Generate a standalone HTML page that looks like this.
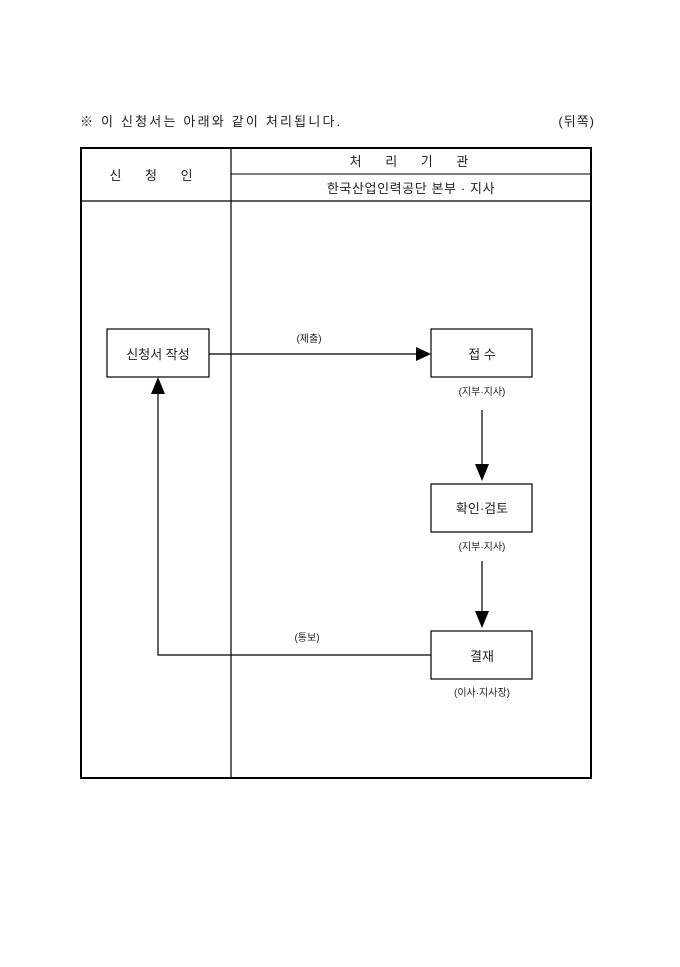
<!DOCTYPE html>
<html><head><meta charset="utf-8"><style>
body{margin:0;background:#fff;}
svg text{font-family:"Liberation Sans","Noto Sans CJK KR","NanumGothic",sans-serif;fill:#222;}
</style></head><body>
<svg width="680" height="962" xmlns="http://www.w3.org/2000/svg">
<text x="80" y="126" font-size="13" letter-spacing="2.2">※ 이 신청서는 아래와 같이 처리됩니다.</text>
<text x="595" y="126" font-size="13" text-anchor="end" letter-spacing="1">(뒤쪽)</text>
<rect x="81" y="148" width="510" height="630" fill="none" stroke="#000" stroke-width="2"/>
<line x1="231" y1="148" x2="231" y2="778" stroke="#000" stroke-width="1.2"/>
<line x1="81" y1="201" x2="591" y2="201" stroke="#000" stroke-width="1.2"/>
<line x1="231" y1="174" x2="591" y2="174" stroke="#000" stroke-width="1"/>
<text x="156" y="180" font-size="13" text-anchor="middle" letter-spacing="10">신 청 인</text>
<text x="414" y="166" font-size="13" text-anchor="middle" letter-spacing="10">처 리 기 관</text>
<text x="411" y="193" font-size="13" text-anchor="middle" letter-spacing="0.6">한국산업인력공단 본부 · 지사</text>
<g fill="#fff" stroke="#000" stroke-width="1.2">
<rect x="107" y="329" width="102" height="48"/>
<rect x="431" y="329" width="101" height="48"/>
<rect x="431" y="484" width="101" height="48"/>
<rect x="431" y="631" width="101" height="48"/>
</g>
<text x="158" y="359" font-size="13" text-anchor="middle">신청서 작성</text>
<text x="482" y="359" font-size="13" text-anchor="middle">접 수</text>
<text x="482" y="513" font-size="13" text-anchor="middle">확인·검토</text>
<text x="482" y="661" font-size="13" text-anchor="middle">결재</text>
<text x="309" y="342" font-size="10" text-anchor="middle">(제출)</text>
<text x="482" y="395" font-size="10" text-anchor="middle">(지부·지사)</text>
<text x="482" y="550" font-size="10" text-anchor="middle">(지부·지사)</text>
<text x="307" y="641" font-size="10" text-anchor="middle">(통보)</text>
<text x="482" y="696" font-size="10" text-anchor="middle">(이사·지사장)</text>
<g stroke="#000" stroke-width="1.2" fill="none">
<line x1="209" y1="354" x2="417" y2="354"/>
<line x1="482" y1="410" x2="482" y2="466"/>
<line x1="482" y1="561" x2="482" y2="613"/>
<polyline points="431,655 158,655 158,392"/>
</g>
<g fill="#000">
<polygon points="431,354 416,347 416,361"/>
<polygon points="482,481 475,464 489,464"/>
<polygon points="482,628 475,611 489,611"/>
<polygon points="158,377 151,394 165,394"/>
</g>
</svg>
</body></html>
